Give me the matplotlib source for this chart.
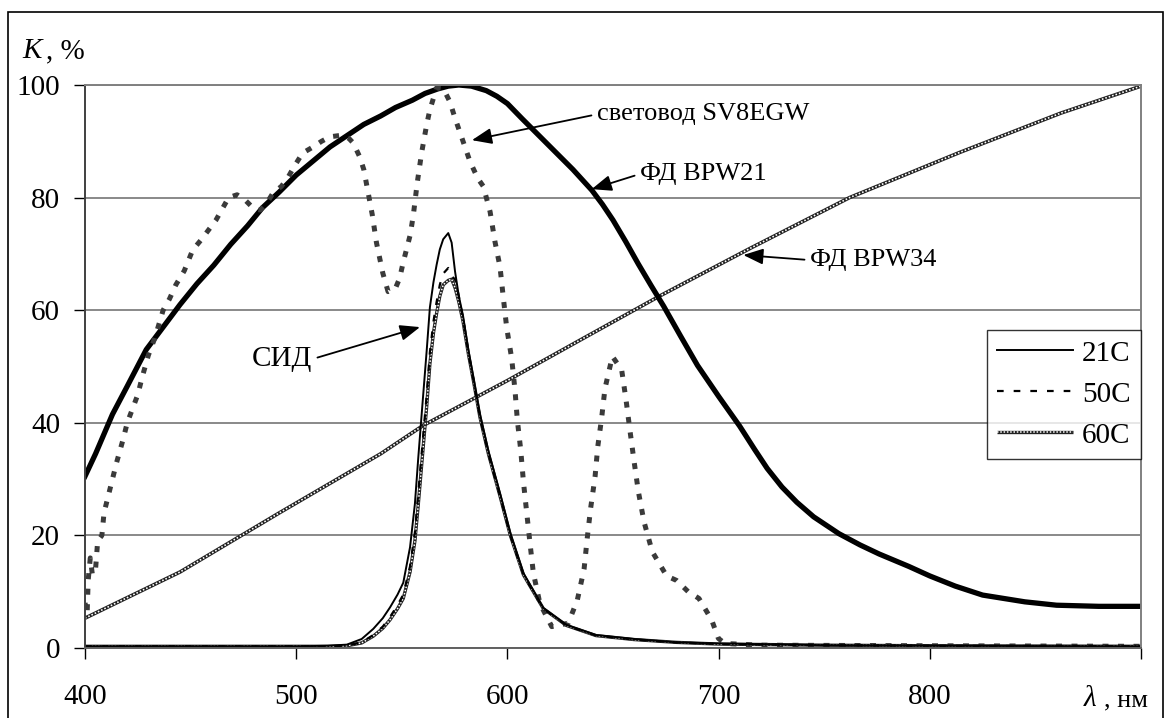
import matplotlib
matplotlib.use('Agg')
import matplotlib.pyplot as plt
from matplotlib.patches import Rectangle

plt.rcParams['font.family'] = ['Liberation Serif', 'DejaVu Serif']

# фотодиод BPW21
bpw21_wl = [400, 405, 413, 420, 429, 437, 445, 453, 461, 469, 477, 484, 492, 500, 508, 516, 524,
            532, 540, 547, 555, 561, 567, 572, 577, 583, 590, 595, 600, 607, 615, 623, 631, 640,
            645, 650, 656, 662, 668, 674, 682, 690, 700, 710, 717, 723, 730, 737, 745, 757, 767,
            776, 790, 800, 812, 825, 845, 860, 880, 900]
bpw21_k = [30.5, 34.5, 41.5, 46.5, 53, 57, 61, 64.7, 68, 71.7, 75, 78.2, 81, 84, 86.5, 89, 91,
           93, 94.5, 96, 97.3, 98.5, 99.3, 99.8, 100, 99.8, 99, 98, 96.7, 94, 91, 88, 85, 81.3,
           78.8, 76, 72.2, 68.2, 64.4, 60.7, 55.4, 50.2, 44.7, 39.4, 35.3, 31.9, 28.6, 25.9, 23.3,
           20.3, 18.3, 16.7, 14.5, 12.8, 11, 9.4, 8.2, 7.6, 7.4, 7.4]

# фотодиод BPW34
bpw34_wl = [400, 445, 492, 540, 560, 600, 634, 672, 715, 762, 814, 862, 900]
bpw34_k = [5.3, 13.5, 24, 34.5, 39.5, 47.5, 54.6, 62.5, 71, 80, 88, 95, 99.8]

# световод SV8EGW
sv_wl = [400, 401, 401.5, 402.5, 403.5, 405, 406, 408, 409, 411, 413, 415, 418, 420, 422, 425,
         427, 430, 433, 437, 440, 443, 447, 451, 455, 458, 462, 465, 468, 472, 476, 480, 483,
         486, 489, 493, 496, 499, 503, 508, 512, 516, 522, 525, 527, 530, 532, 533.5, 536, 538,
         541, 543.5, 547, 549, 550.6, 554, 555.5, 557.3, 559.4, 561.8, 563.3, 566.5, 569.6,
         572.8, 575.2, 579, 582.3, 586, 588.6, 591.8, 594.1, 596.5, 598.1, 599.7, 602, 603.6,
         604.7, 606.3, 607.6, 609.1, 610.7, 612.3, 615.4, 621, 628.8, 633.1, 636.3, 637.8,
         639.4, 641.5, 642.8, 644.6, 646.2, 649.7, 654.1, 656.2, 658, 660, 662, 664.7, 668.6,
         675.4, 680.1, 685.6, 690.7, 696.7, 699.9, 703, 720, 800, 900]
sv_k = [8, 6, 12, 16, 13, 14, 19, 20, 24, 27, 30, 33, 37, 40, 42, 45,
        48, 52, 55, 60, 62, 64.5, 67, 70.7, 72.5, 74, 76, 78, 80, 80.5, 79.5, 78, 77.8,
        79, 80.8, 82, 83.5, 85.5, 87.9, 89, 90, 90.8, 91.1, 90.5, 89.7, 87.3, 85, 82, 77, 72,
        66.6, 63.3, 63.9, 65.7, 68.4, 73.4, 77, 82.6, 88, 93, 95.6, 99.5, 99.4,
        97, 94.1, 90, 86.4, 83.4, 82, 77.5, 72.2, 67.7, 62.1, 56.8, 51.5, 45.8,
        40.5, 35.2, 29.5, 24.2, 18.6, 13.3, 7.9, 3.8, 4.4, 8.5, 14, 19.5,
        24.8, 30.4, 35.8, 40.8, 46.1, 51.8, 49.4, 44, 38.7, 33.1, 27.8, 22.4, 17.1,
        12.8, 12, 10, 8.8, 5, 1.7, 0.8, 0.5, 0.4, 0.3]

# СИД при разных температурах
sid_wl = [400, 500, 515, 524, 531, 536.5, 541, 544.4, 548, 550.7, 553.9, 556.2, 557.8, 559.4,
          561.8, 563.3, 565, 566.5, 568, 569.6, 572, 573.6, 575.2, 577, 579, 581.5, 584, 587,
          591, 596.5, 601.4, 607.6, 617, 628, 642, 660, 680, 700, 750, 800, 900]
sid_21 = [0.3, 0.3, 0.4, 0.6, 1.6, 3.4, 5.3, 7.2, 9.5, 11.6, 17.9, 25.6, 33.8, 41.5,
          52.9, 60.5, 65, 68.1, 70.8, 72.6, 73.7, 72, 66.9, 62.5, 59, 53, 47.8, 41.5,
          35, 27.5, 20.4, 13.3, 7.1, 4.1, 2.3, 1.6, 1.0, 0.8, 0.5, 0.4, 0.3]
sid_50 = [0.3, 0.3, 0.3, 0.4, 1.0, 2.3, 3.8, 5.5, 7.6, 9.5, 14.5, 20.5, 27.5, 34.5,
          45, 52.5, 58, 61.5, 64.5, 66.5, 67.5, 66, 65.5, 62.5, 58.5, 52.5, 47.5, 41,
          34.5, 27, 20, 13, 7, 4, 2.2, 1.5, 1.0, 0.7, 0.5, 0.4, 0.3]
sid_60 = [0.3, 0.3, 0.3, 0.4, 0.9, 2.1, 3.5, 5.0, 7.0, 8.8, 13.5, 19, 25.5, 32.5,
          43, 50.5, 56, 59.5, 62.5, 64.5, 65.3, 65.5, 64, 61.5, 58, 52.3, 47.3, 41,
          34.5, 27, 20, 13, 7, 4, 2.2, 1.5, 1.0, 0.7, 0.5, 0.4, 0.3]

x_ticks = [400, 500, 600, 700, 800, 900]
x_labels = ['400', '500', '600', '700', '800', '']
y_ticks = [0, 20, 40, 60, 80, 100]

W, H = 1166, 718
fig = plt.figure(figsize=(W / 100, H / 100), dpi=100)
ax = fig.add_axes([85 / W, 1 - 648 / H, (1141 - 85) / W, (648 - 85) / H])

# рамка вокруг всего рисунка
fig.patches.append(Rectangle((8 / W, -0.01), (1163 - 8) / W, 1 - 12 / H + 0.01,
                             transform=fig.transFigure, fill=False, ec='black', lw=1.2))

ax.set_xlim(400, 900)
ax.set_ylim(0, 100)
ax.set_xticks(x_ticks)
ax.set_xticklabels(x_labels)
ax.set_yticks(y_ticks)
ax.tick_params(axis='both', direction='out', length=8, width=1, labelsize=21, colors='black')
ax.tick_params(axis='x', pad=18)
ax.tick_params(axis='y', pad=10)
ax.yaxis.grid(True, color='#808080', lw=1.3)
ax.set_axisbelow(True)
ax.spines['left'].set_color('#404040')
ax.spines['bottom'].set_color('#606060')
ax.spines['top'].set_color('#808080')
ax.spines['right'].set_color('#808080')
for s in ax.spines.values():
    s.set_linewidth(1.4)

# узорная линия (чёрно-белая)
def pattern_line(x, y, lw):
    a, = ax.plot(x, y, color='#222222', lw=lw, solid_capstyle='butt')
    b, = ax.plot(x, y, color='white', lw=lw * 0.45, linestyle=(0, (1, 1.2)))
    return a, b

pattern_line(bpw34_wl, bpw34_k, 2.6)
ax.plot(bpw21_wl, bpw21_k, color='black', lw=3.8)
ax.plot(sv_wl, sv_k, color='#3a3a3a', lw=3.6, linestyle=(0, (1.2, 1.9)))

h60 = pattern_line(sid_wl, sid_60, 2.4)
h50, = ax.plot(sid_wl, sid_50, color='black', lw=1.6, linestyle=(0, (3, 4.5)))
h21, = ax.plot(sid_wl, sid_21, color='black', lw=1.4)

leg = ax.legend([h21, h50, h60], ['21C', '50C', '60C'], loc='upper left',
                bbox_to_anchor=(987 / W, 1 - 330 / H), bbox_transform=fig.transFigure,
                borderaxespad=0, fontsize=21, frameon=True, fancybox=False,
                edgecolor='black', handlelength=2.6, handletextpad=0.3,
                labelspacing=0.5, borderpad=0.35)
leg.get_frame().set_linewidth(1.0)

arrow = dict(arrowstyle='-|>,head_length=0.55,head_width=0.22', color='black', lw=1.3,
             mutation_scale=22, shrinkA=2, shrinkB=0)
ax.annotate('световод SV8EGW', xy=(583.2, 90.2), xytext=(642.4, 94.8), fontsize=19,
            ha='left', va='center', arrowprops=dict(arrow, relpos=(0, 0.5)))
ax.annotate('ФД BPW21', xy=(639.9, 81.5), xytext=(662.8, 84.2), fontsize=19,
            ha='left', va='center', arrowprops=dict(arrow, relpos=(0, 0.5)))
ax.annotate('ФД BPW34', xy=(711.7, 69.8), xytext=(743.3, 68.9), fontsize=19,
            ha='left', va='center', arrowprops=dict(arrow, relpos=(0, 0.5)))
ax.annotate('СИД', xy=(558.6, 57.0), xytext=(478.9, 51.3), fontsize=21,
            ha='left', va='center', arrowprops=dict(arrow, relpos=(1, 0.5)))

# подписи осей
fig.text(22 / W, 1 - 58 / H, 'K', fontsize=21, style='italic', ha='left', va='baseline')
fig.text(46 / W, 1 - 58 / H, ', %', fontsize=21, ha='left', va='baseline')
fig.text(1084 / W, 1 - 706 / H, 'λ', fontsize=21, style='italic', ha='left', va='baseline')
fig.text(1104 / W, 1 - 706 / H, ', нм', fontsize=19, ha='left', va='baseline')

fig.savefig('out.png', dpi=100)
